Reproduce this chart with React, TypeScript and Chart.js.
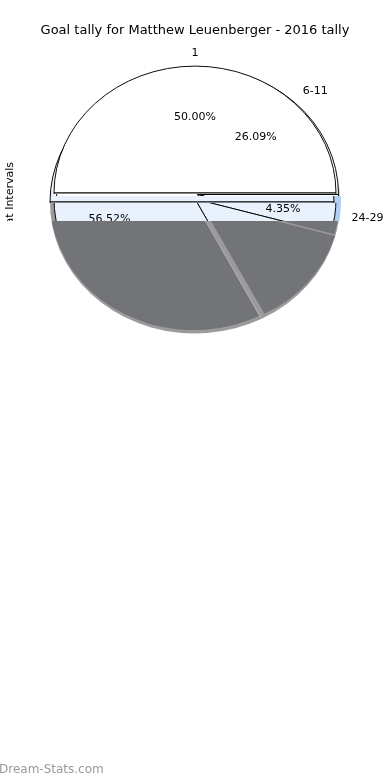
import { useEffect, useRef } from "react";
import { Chart, registerables } from "chart.js";

Chart.register(...registerables);

// ---- data ----
const chartTitle = "Goal tally for Matthew Leuenberger - 2016 tally";
const yAxisTitle = "Goals at Intervals";
const watermarkText = "Dream-Stats.com";

const intervalLabels = ["24-29", "18-23", "1", "6-11"];
const intervalShares = [4.35, 13.04, 56.52, 26.09];

const halfLabels = ["1", "6-29"];
const halfShares = [50.0, 50.0];

// ---- layout / style ----
const W = 390;
const H = 780;
const SY = 0.9;
const FONT = "'DejaVu Sans', 'Liberation Sans', sans-serif";

type Layer = {
  labels: string[];
  values: number[];
  rotation: number;
  cx: number;
  cy: number;
  r: number;
  fill: string | string[];
  border?: string;
  borderWidth?: number;
  offset?: number[] | number;
  clipTop: number;
  clipBottom: number;
  showText?: boolean;
};

const LAYERS: Layer[] = [
  // soft shadow under the whole pie
  { labels: intervalLabels, values: intervalShares, rotation: 90, cx: 195, cy: 203, r: 145, fill: "#9b9b9c", clipTop: 0, clipBottom: H },
  // grey exploded pie (lower strip)
  { labels: intervalLabels, values: intervalShares, rotation: 90, cx: 197.5, cy: 200, r: 139.5, fill: "#737477", offset: [6, 12, 16, 0], clipTop: 221, clipBottom: H },
  // blue exploded back
  { labels: intervalLabels, values: intervalShares, rotation: 90, cx: 198, cy: 201, r: 143, fill: "#b1cef4", clipTop: 196, clipBottom: 221 },
  // light blue band
  { labels: intervalLabels, values: intervalShares, rotation: 90, cx: 195, cy: 199, r: 141, fill: "#e9f1fd", border: "#000000", borderWidth: 1, clipTop: 203, clipBottom: 221, showText: true },
  // light blue half behind the white one
  { labels: halfLabels, values: halfShares, rotation: -90, cx: 192, cy: 202, r: 142, fill: "#e9f1fd", border: "#000000", borderWidth: 1, clipTop: 0, clipBottom: 203 },
  // ghost outline
  { labels: intervalLabels, values: intervalShares, rotation: 90, cx: 197.5, cy: 194.5, r: 141, fill: "#ffffff", border: "#000000", borderWidth: 1, clipTop: 0, clipBottom: 196 },
  // white top half
  { labels: halfLabels, values: halfShares, rotation: -90, cx: 195, cy: 193, r: 141, fill: "#ffffff", border: "#000000", borderWidth: 1, clipTop: 0, clipBottom: 194, showText: true },
  // text overlay for the interval pie in the top strip
  { labels: intervalLabels, values: intervalShares, rotation: 90, cx: 195, cy: 193, r: 141, fill: "rgba(0,0,0,0)", clipTop: 0, clipBottom: 194, showText: true },
];

function clipRect(ctx: CanvasRenderingContext2D, top: number, bottom: number) {
  ctx.beginPath();
  ctx.rect(-20, top, W + 40, bottom - top);
  ctx.clip();
}

function makeLayerPlugin(layer: Layer) {
  return {
    id: "layerShape",
    beforeDatasetsDraw(chart: any) {
      const ctx = chart.ctx as CanvasRenderingContext2D;
      ctx.save();
      clipRect(ctx, layer.clipTop, layer.clipBottom);
      ctx.translate(layer.cx, layer.cy);
      ctx.scale(1, SY);
      ctx.translate(-layer.cx, -layer.cy);
    },
    afterDatasetsDraw(chart: any) {
      const ctx = chart.ctx as CanvasRenderingContext2D;
      ctx.restore();
      if (!layer.showText) return;
      const meta = chart.getDatasetMeta(0);
      const total = layer.values.reduce((a, b) => a + b, 0);
      ctx.save();
      clipRect(ctx, layer.clipTop, layer.clipBottom);
      ctx.fillStyle = "#000000";
      ctx.font = `11px ${FONT}`;
      ctx.textBaseline = "middle";
      meta.data.forEach((el: any, i: number) => {
        const p = el.getProps(["x", "y", "startAngle", "endAngle", "outerRadius"], true);
        const mid = (p.startAngle + p.endAngle) / 2;
        const c = Math.cos(mid);
        const s = Math.sin(mid);
        const lx = p.x + c * p.outerRadius * 1.12;
        const ly = p.y + s * p.outerRadius * 1.1 * SY;
        ctx.textAlign = Math.abs(c) < 0.05 ? "center" : c > 0 ? "left" : "right";
        ctx.fillText(layer.labels[i], lx, ly);
        ctx.textAlign = "center";
        const pct = (layer.values[i] / total) * 100;
        ctx.fillText(pct.toFixed(2) + "%", p.x + c * p.outerRadius * 0.63, p.y + s * p.outerRadius * 0.6 * SY);
      });
      ctx.restore();
    },
  };
}

function buildConfig(layer: Layer): any {
  const padLeft = Math.max(0, 2 * layer.cx - W);
  const padRight = Math.max(0, W - 2 * layer.cx);
  const padTop = Math.max(0, 2 * layer.cy - H);
  const padBottom = Math.max(0, H - 2 * layer.cy);
  return {
    type: "pie",
    data: {
      labels: layer.labels,
      datasets: [
        {
          data: layer.values,
          backgroundColor: layer.fill,
          borderColor: layer.border ?? "rgba(0,0,0,0)",
          borderWidth: layer.borderWidth ?? 0,
          offset: layer.offset ?? 0,
          hoverOffset: 0,
          hoverBorderWidth: 0,
          rotation: layer.rotation,
          radius: layer.r,
          clip: false,
        },
      ],
    },
    options: {
      responsive: false,
      maintainAspectRatio: false,
      animation: false,
      events: [],
      rotation: layer.rotation,
      radius: layer.r,
      layout: { padding: { left: padLeft, right: padRight, top: padTop, bottom: padBottom } },
      plugins: {
        legend: { display: false },
        tooltip: { enabled: false },
        title: { display: false },
      },
    },
    plugins: [makeLayerPlugin(layer)],
  };
}

const framePlugin = {
  id: "frameText",
  afterDraw(chart: any) {
    const ctx = chart.ctx as CanvasRenderingContext2D;
    // y axis title (clipped like the band it belongs to)
    ctx.save();
    clipRect(ctx, 0, 221);
    ctx.translate(10, 162);
    ctx.rotate(-Math.PI / 2);
    ctx.fillStyle = "#000000";
    ctx.font = `11px ${FONT}`;
    ctx.textAlign = "right";
    ctx.textBaseline = "middle";
    ctx.fillText(yAxisTitle, 0, 0);
    ctx.restore();
    // watermark
    ctx.save();
    ctx.fillStyle = "#9a9a9a";
    ctx.font = `12px ${FONT}`;
    ctx.textAlign = "left";
    ctx.textBaseline = "middle";
    ctx.fillText(watermarkText, -1, 770);
    ctx.restore();
  },
};

function frameConfig(): any {
  return {
    type: "pie",
    data: { labels: [], datasets: [] },
    options: {
      responsive: false,
      maintainAspectRatio: false,
      animation: false,
      events: [],
      layout: { padding: 0 },
      plugins: {
        legend: { display: false },
        tooltip: { enabled: false },
        title: {
          display: true,
          text: chartTitle,
          color: "#000000",
          font: { family: FONT, size: 13, weight: "normal" },
          padding: { top: 23, bottom: 0 },
        },
      },
    },
    plugins: [framePlugin],
  };
}

export default function App() {
  const refs = useRef<(HTMLCanvasElement | null)[]>([]);
  useEffect(() => {
    const charts: Chart[] = LAYERS.map((layer, i) => new Chart(refs.current[i]!, buildConfig(layer)));
    charts.push(new Chart(refs.current[LAYERS.length]!, frameConfig()));
    return () => {
      charts.forEach((c) => c.destroy());
    };
  }, []);
  const slots = [...LAYERS.map((_, i) => i), LAYERS.length];
  return (
    <div style={{ position: "fixed", left: 0, top: 0, width: W, height: H, background: "#ffffff", overflow: "hidden" }}>
      {slots.map((i) => (
        <canvas
          key={i}
          ref={(el) => {
            refs.current[i] = el;
          }}
          width={W}
          height={H}
          style={{ position: "absolute", left: 0, top: 0, width: W, height: H }}
        />
      ))}
    </div>
  );
}
